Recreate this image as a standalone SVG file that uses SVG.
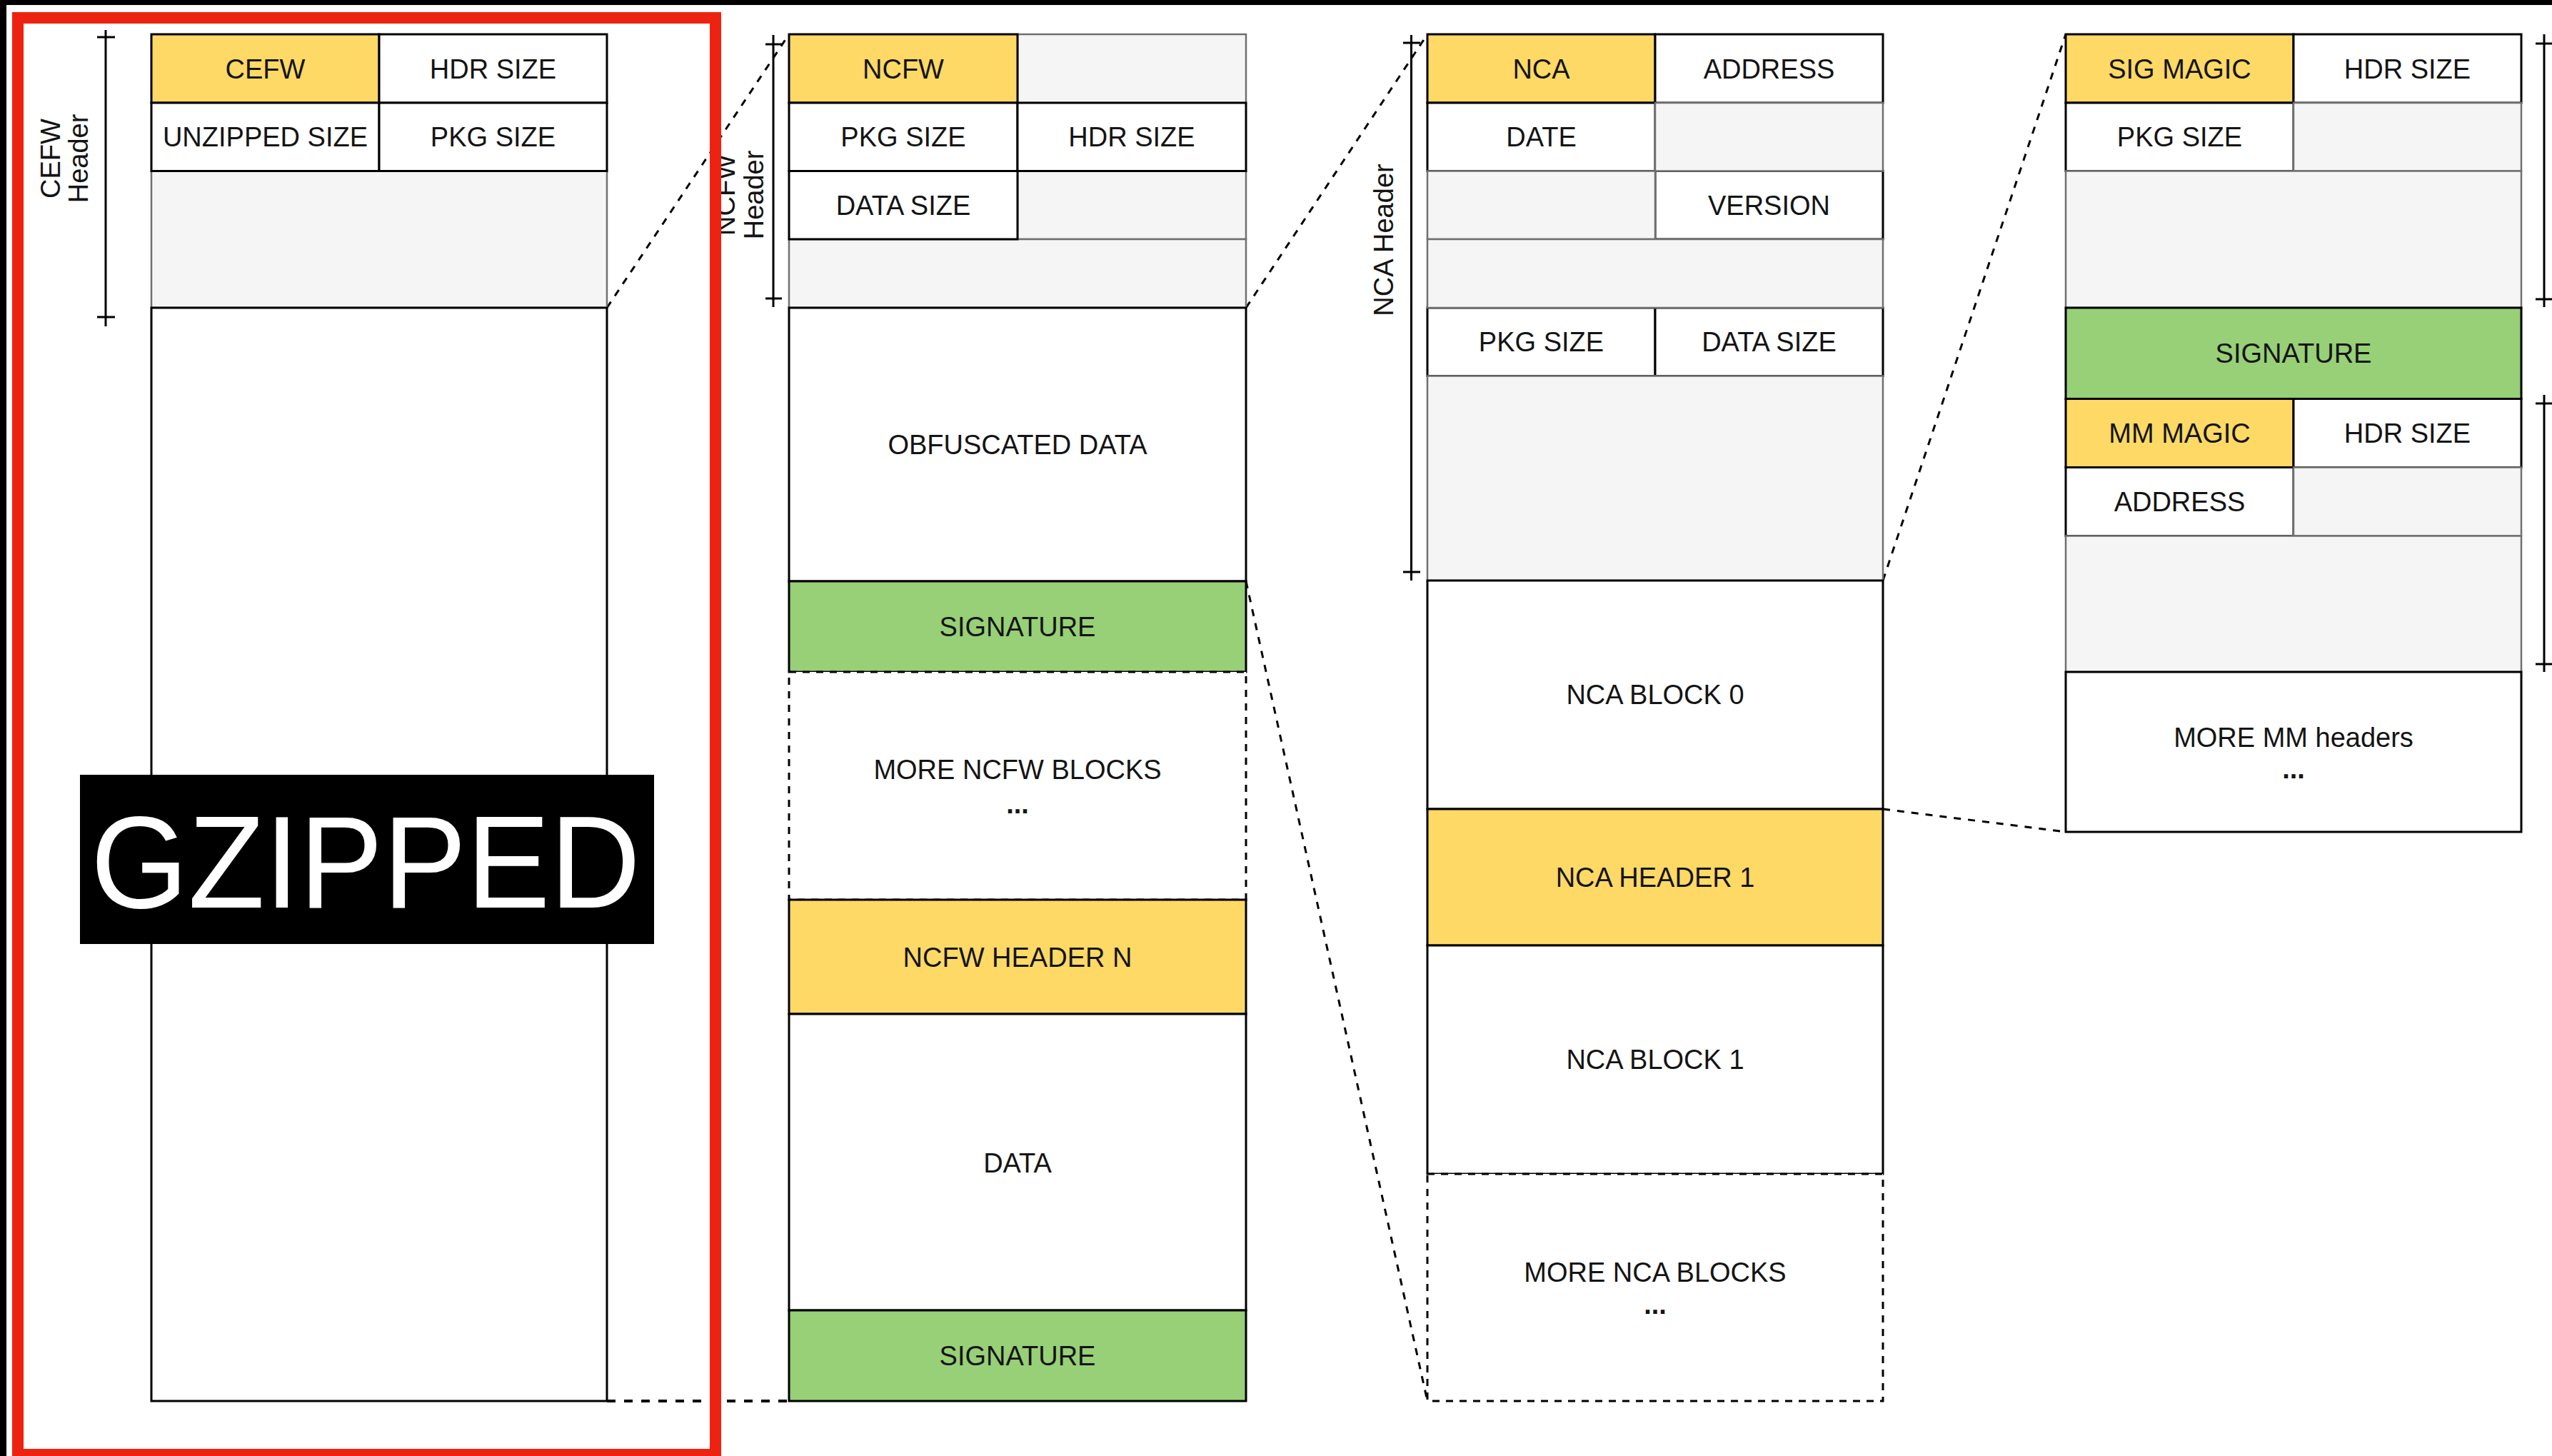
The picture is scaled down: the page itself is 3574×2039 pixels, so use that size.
<svg xmlns="http://www.w3.org/2000/svg" width="3574" height="2039" viewBox="0 0 3574 2039">
  <style>
    text { font-family: "Liberation Sans", Arial, Helvetica, sans-serif; font-size: 38px; fill: #141414; text-anchor: middle; }
    .w { fill: #ffffff; stroke: #000000; stroke-width: 3; }
    .y { fill: #ffd966; stroke: #000000; stroke-width: 3; }
    .g { fill: #97d077; stroke: #000000; stroke-width: 3; }
    .gr { fill: #f5f5f5; stroke: #707070; stroke-width: 2.5; }
    .dbox { fill: #ffffff; stroke: #000000; stroke-width: 3; stroke-dasharray: 10 9; }
    .ruler { stroke: #000000; stroke-width: 3; fill: none; }
    .conn { stroke: #000000; stroke-width: 3; fill: none; stroke-dasharray: 10 10; }
    .dots { stroke: #000000; stroke-width: 4; fill: none; stroke-dasharray: 12 12; }
    .dd { font-weight: bold; }
  </style>

  <rect x="0" y="0" width="3574" height="2039" fill="#ffffff"/>
  <!-- dark frame edges -->
  <rect x="0" y="0" width="3574" height="7" fill="#000000"/>
  <rect x="0" y="0" width="9" height="2039" fill="#000000"/>

  <!-- connectors between layers -->
  <g id="connectors">
    <line class="conn" x1="850" y1="431" x2="1105" y2="48"/>
    <line class="conn" x1="1745" y1="431" x2="1999" y2="48"/>
    <line class="conn" x1="1745" y1="814" x2="1999" y2="1962"/>
    <line class="conn" x1="2637" y1="813" x2="2893" y2="48"/>
    <line class="conn" x1="2637" y1="1133" x2="2893" y2="1165"/>
    <line class="dots" x1="850" y1="1962" x2="1105" y2="1962"/>
  </g>

  <!-- CEFW container -->
  <g id="cefw">
    <rect class="gr" x="212" y="239.5" width="638" height="191.5"/>
    <rect class="w" x="212" y="431" width="638" height="1531"/>
    <rect class="y" x="212" y="48" width="319" height="96"/>
    <rect class="w" x="531" y="48" width="319" height="96"/>
    <rect class="w" x="212" y="144" width="319" height="95.5"/>
    <rect class="w" x="531" y="144" width="319" height="95.5"/>
    <text x="371.5" y="109.5">CEFW</text>
    <text x="690.5" y="109.5">HDR SIZE</text>
    <text x="371.5" y="205">UNZIPPED SIZE</text>
    <text x="690.5" y="205">PKG SIZE</text>
  </g>
  <g id="cefw-ruler">
    <line class="ruler" x1="148" y1="42" x2="148" y2="457"/>
    <line class="ruler" x1="136" y1="52" x2="161" y2="52"/>
    <line class="ruler" x1="136" y1="444" x2="161" y2="444"/>
    <text transform="translate(0,222) rotate(-90)"><tspan x="0" y="84">CEFW</tspan><tspan x="0" y="123">Header</tspan></text>
  </g>

  <g id="gzipped">
    <rect x="112" y="1085" width="804" height="237" fill="#000000"/>
    <text x="512" y="1271" style="font-size:183px;fill:#ffffff" textLength="770" lengthAdjust="spacingAndGlyphs">GZIPPED</text>
  </g>

  <!-- NCFW container -->
  <g id="ncfw">
    <rect class="gr" x="1425" y="48" width="320" height="96"/>
    <rect class="gr" x="1425" y="239.5" width="320" height="95.5"/>
    <rect class="gr" x="1105" y="335" width="640" height="96"/>
    <rect class="y" x="1105" y="48" width="320" height="96"/>
    <rect class="w" x="1105" y="144" width="320" height="95.5"/>
    <rect class="w" x="1425" y="144" width="320" height="95.5"/>
    <rect class="w" x="1105" y="239.5" width="320" height="95.5"/>
    <text x="1265" y="109.5">NCFW</text>
    <text x="1265" y="205">PKG SIZE</text>
    <text x="1585" y="205">HDR SIZE</text>
    <text x="1265" y="301">DATA SIZE</text>
  </g>
  <g id="ncfw-obf">
    <rect class="w" x="1105" y="431" width="640" height="383"/>
    <text x="1425" y="636">OBFUSCATED DATA</text>
  </g>
  <g id="ncfw-sig0">
    <rect class="g" x="1105" y="814" width="640" height="127"/>
    <text x="1425" y="891">SIGNATURE</text>
  </g>
  <g id="ncfw-more">
    <rect class="dbox" x="1105" y="941" width="640" height="319"/>
    <text x="1425" y="1091">MORE NCFW BLOCKS</text>
    <text class="dd" x="1425" y="1139">...</text>
  </g>
  <g id="ncfw-hdr-n">
    <rect class="y" x="1105" y="1260" width="640" height="160"/>
    <text x="1425" y="1354">NCFW HEADER N</text>
  </g>
  <g id="ncfw-data">
    <rect class="w" x="1105" y="1420" width="640" height="415"/>
    <text x="1425" y="1642">DATA</text>
  </g>
  <g id="ncfw-sign">
    <rect class="g" x="1105" y="1835" width="640" height="127"/>
    <text x="1425" y="1912">SIGNATURE</text>
  </g>
  <g id="ncfw-ruler">
    <line class="ruler" x1="1083" y1="49" x2="1083" y2="430"/>
    <line class="ruler" x1="1072" y1="62" x2="1095" y2="62"/>
    <line class="ruler" x1="1072" y1="418" x2="1095" y2="418"/>
    <text transform="translate(0,273) rotate(-90)"><tspan x="0" y="1029">NCFW</tspan><tspan x="0" y="1069">Header</tspan></text>
  </g>

  <!-- NCA container -->
  <g id="nca">
    <rect class="y" x="1999" y="48" width="319" height="96"/>
    <rect class="w" x="2318" y="48" width="319" height="96"/>
    <rect class="w" x="1999" y="144" width="319" height="95.5"/>
    <rect class="w" x="2318" y="239.5" width="319" height="95.5"/>
    <rect class="w" x="1999" y="431" width="319" height="95.5"/>
    <rect class="w" x="2318" y="431" width="319" height="95.5"/>
    <rect class="gr" x="2318" y="144" width="319" height="95.5"/>
    <rect class="gr" x="1999" y="239.5" width="319" height="95.5"/>
    <rect class="gr" x="1999" y="335" width="638" height="96"/>
    <rect class="gr" x="1999" y="526.5" width="638" height="286.5"/>
    <text x="2158.5" y="109.5">NCA</text>
    <text x="2477.5" y="109.5">ADDRESS</text>
    <text x="2158.5" y="205">DATE</text>
    <text x="2477.5" y="301">VERSION</text>
    <text x="2158.5" y="492">PKG SIZE</text>
    <text x="2477.5" y="492">DATA SIZE</text>
  </g>
  <g id="nca-block0">
    <rect class="w" x="1999" y="813" width="638" height="320"/>
    <text x="2318" y="986">NCA BLOCK 0</text>
  </g>
  <g id="nca-hdr1">
    <rect class="y" x="1999" y="1133" width="638" height="191"/>
    <text x="2318" y="1242">NCA HEADER 1</text>
  </g>
  <g id="nca-block1">
    <rect class="w" x="1999" y="1324" width="638" height="320"/>
    <text x="2318" y="1497">NCA BLOCK 1</text>
  </g>
  <g id="nca-more">
    <rect class="dbox" x="1999" y="1644" width="638" height="318"/>
    <text x="2318" y="1795">MORE NCA BLOCKS</text>
    <text class="dd" x="2318" y="1840">...</text>
  </g>
  <g id="nca-ruler">
    <line class="ruler" x1="1976.5" y1="49" x2="1976.5" y2="813"/>
    <line class="ruler" x1="1965" y1="60" x2="1989" y2="60"/>
    <line class="ruler" x1="1965" y1="801" x2="1989" y2="801"/>
    <text transform="translate(0,336) rotate(-90)"><tspan x="0" y="1951">NCA Header</tspan></text>
  </g>

  <!-- signature / MM container -->
  <g id="sig">
    <rect class="y" x="2893" y="48" width="319" height="96"/>
    <rect class="w" x="3212" y="48" width="319" height="96"/>
    <rect class="w" x="2893" y="144" width="319" height="95.5"/>
    <rect class="gr" x="3212" y="144" width="319" height="95.5"/>
    <rect class="gr" x="2893" y="239.5" width="638" height="191.5"/>
    <text x="3052.5" y="109.5">SIG MAGIC</text>
    <text x="3371.5" y="109.5">HDR SIZE</text>
    <text x="3052.5" y="205">PKG SIZE</text>
  </g>
  <g id="sig-signature">
    <rect class="g" x="2893" y="431" width="638" height="127.5"/>
    <text x="3212" y="508">SIGNATURE</text>
  </g>
  <g id="mm">
    <rect class="y" x="2893" y="558.5" width="319" height="96"/>
    <rect class="w" x="3212" y="558.5" width="319" height="96"/>
    <rect class="w" x="2893" y="654.5" width="319" height="96"/>
    <rect class="gr" x="3212" y="654.5" width="319" height="96"/>
    <rect class="gr" x="2893" y="750.5" width="638" height="190.5"/>
    <text x="3052.5" y="620">MM MAGIC</text>
    <text x="3371.5" y="620">HDR SIZE</text>
    <text x="3052.5" y="716">ADDRESS</text>
  </g>
  <g id="mm-more">
    <rect class="w" x="2893" y="941" width="638" height="224"/>
    <text x="3212" y="1046">MORE MM headers</text>
    <text class="dd" x="3212" y="1090">...</text>
  </g>
  <g id="sig-rulers">
    <line class="ruler" x1="3563" y1="48" x2="3563" y2="430"/>
    <line class="ruler" x1="3551" y1="61" x2="3576" y2="61"/>
    <line class="ruler" x1="3551" y1="419" x2="3576" y2="419"/>
    <line class="ruler" x1="3563" y1="553" x2="3563" y2="941"/>
    <line class="ruler" x1="3551" y1="565" x2="3576" y2="565"/>
    <line class="ruler" x1="3551" y1="930" x2="3576" y2="930"/>
  </g>

  <!-- highlight frame around the gzipped container -->
  <rect id="highlight" x="25" y="25" width="977" height="2012" fill="none" stroke="#ee2211" stroke-width="16"/>
</svg>
